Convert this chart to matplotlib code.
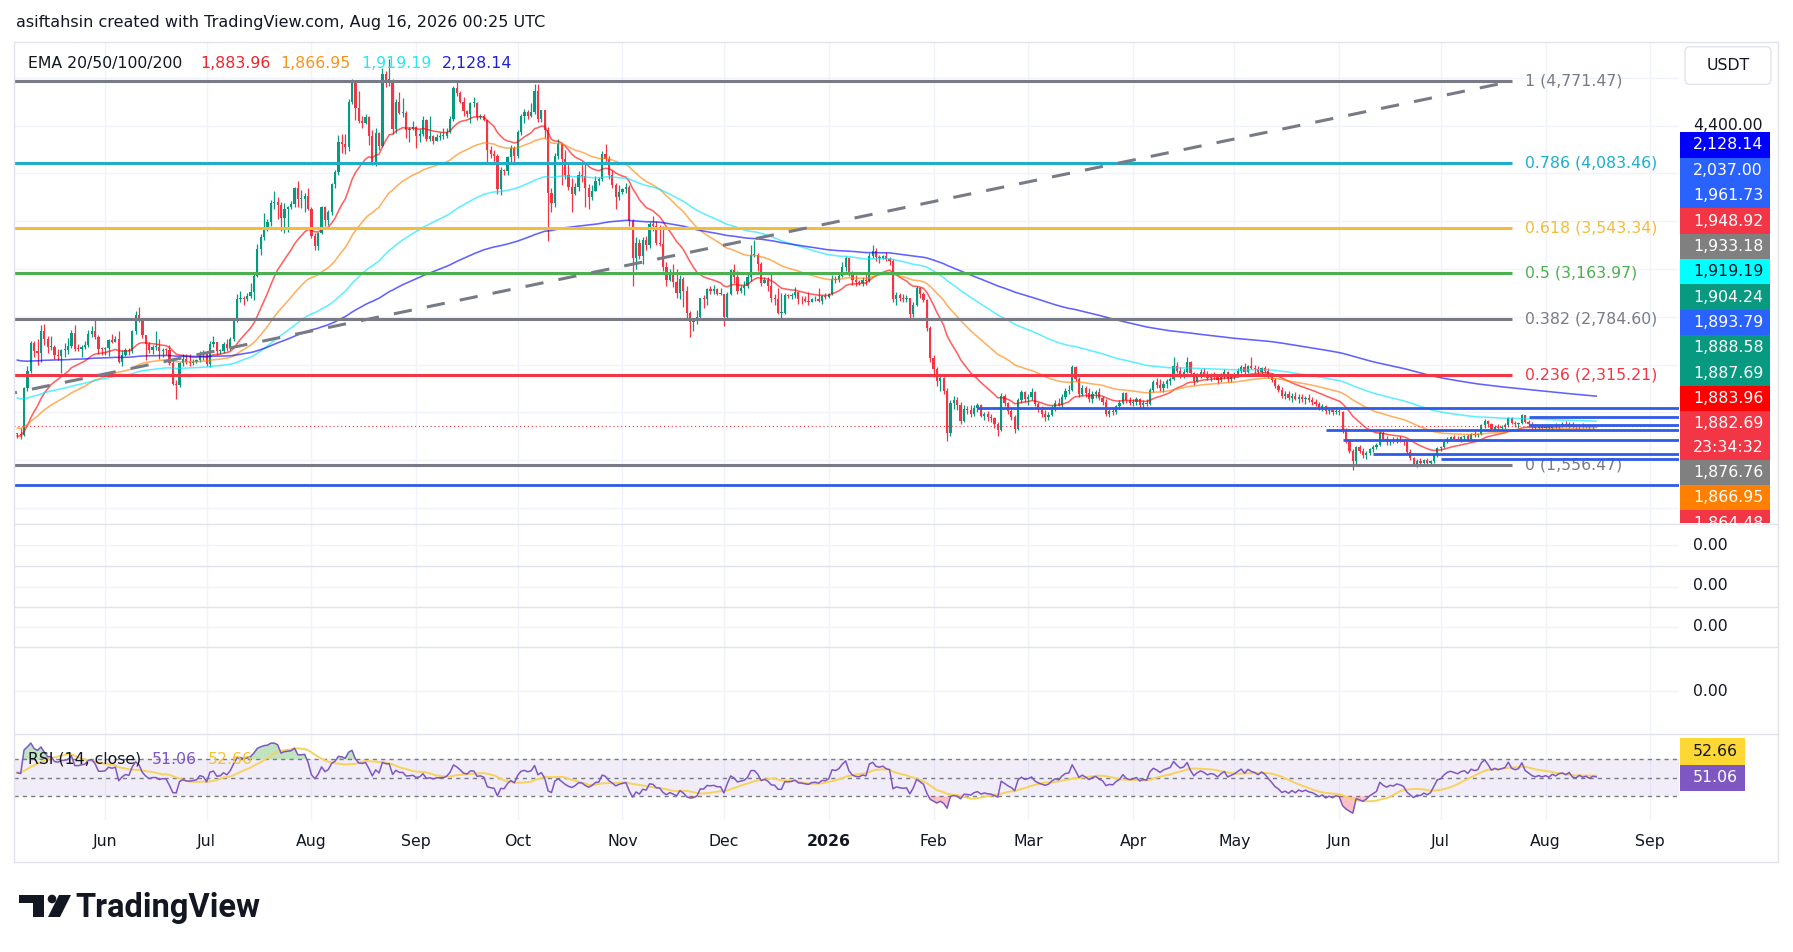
import numpy as np
import pandas as pd
import matplotlib
matplotlib.use("Agg")
import matplotlib.pyplot as plt
from matplotlib.patches import Rectangle, FancyBboxPatch, Polygon, Circle

W, H = 1793, 952
FS = 11.3
TXT = "#131722"
GRID = "#F0F3FA"
SEP = "#E0E3EB"
UP, DOWN = "#089981", "#F23645"

plt.rcParams["font.family"] = ["DejaVu Sans"]

# ──────────────────────────────────────────────
# DADOS — velas diárias ETH/USDT (máxima, mínima, fechamento)
# ──────────────────────────────────────────────
FIRST_DAY = "2025-05-06"
BASE_DAY = pd.Timestamp("2025-06-01")
PREV_CLOSE = 1816.0

may25 = [(1830,1785,1815),(1865,1780,1810),(2215,1805,2206),(2390,2180,2345),(2595,2330,2582),(2600,2460,2515),(2610,2400,2495),
         (2730,2420,2680),(2740,2560,2610),(2640,2500,2545),(2640,2520,2550),(2560,2450,2480),(2530,2440,2470),(2530,2330,2520),
         (2580,2460,2525),(2620,2490,2552),(2690,2540,2663),(2730,2510,2530),(2570,2510,2528),(2560,2460,2550),(2600,2530,2565),
         (2690,2550,2660),(2720,2630,2680),(2790,2610,2632),(2650,2490,2530),(2545,2480,2528)]
jun25 = [(2545,2480,2538),(2610,2475,2605),(2660,2580,2592),(2640,2590,2610),(2680,2410,2420),(2525,2385,2482),(2535,2470,2525),
         (2540,2480,2510),(2690,2500,2680),(2850,2660,2815),(2880,2760,2770),(2780,2620,2645),(2650,2440,2575),(2590,2500,2525),
         (2560,2490,2545),(2680,2520,2545),(2610,2450,2510),(2540,2460,2525),(2540,2480,2520),(2560,2400,2410),(2440,2230,2240),
         (2270,2110,2230),(2420,2210,2410),(2485,2385,2445),(2490,2405,2420),(2490,2390,2415),(2450,2400,2425),(2450,2410,2435),
         (2515,2420,2500),(2520,2440,2485)]
jul25 = [(2490,2390,2405),(2600,2380,2570),(2640,2550,2590),(2590,2480,2510),(2530,2490,2515),(2590,2500,2570),(2610,2510,2540),
         (2630,2520,2615),(2790,2600,2770),(2990,2760,2950),(3020,2920,2960),(2970,2900,2945),(3000,2930,2970),(3080,2960,3010),
         (3170,2940,3140),(3410,3130,3370),(3490,3320,3470),(3670,3440,3550),(3620,3520,3590),(3780,3560,3755),(3850,3700,3760),
         (3800,3620,3740),(3760,3520,3630),(3750,3500,3700),(3730,3510,3720),(3770,3700,3745),(3890,3720,3880),(3940,3720,3790),
         (3860,3710,3790),(3840,3680,3810),(3880,3690,3700)]
aug25 = [(3720,3460,3480),(3500,3360,3390),(3510,3360,3500),(3730,3490,3720),(3730,3560,3610),(3690,3570,3680),(3920,3650,3910),
         (4030,3880,4010),(4320,3990,4260),(4330,4170,4250),(4330,4160,4220),(4620,4190,4600),(4790,4580,4760),(4780,4450,4550),
         (4690,4420,4440),(4480,4380,4425),(4500,4410,4475),(4480,4240,4310),(4360,4070,4080),(4380,4060,4340),(4350,4200,4230),
         (4880,4220,4830),(4860,4720,4780),(4956,4730,4780),(4790,4330,4370),(4620,4340,4600),(4680,4500,4510),(4630,4470,4510),
         (4520,4300,4360),(4390,4260,4370),(4440,4360,4390)]
sep25 = [(4400,4210,4310),(4370,4260,4330),(4480,4310,4450),(4460,4270,4290),(4480,4270,4310),(4320,4250,4270),(4330,4270,4305),
         (4350,4280,4310),(4380,4290,4310),(4380,4300,4350),(4480,4340,4460),(4730,4440,4715),(4770,4650,4670),(4690,4590,4600),
         (4640,4480,4520),(4530,4470,4500),(4600,4420,4590),(4640,4560,4590),(4600,4450,4470),(4500,4460,4480),(4500,4440,4450),
         (4450,4080,4200),(4230,4130,4165),(4200,4090,4150),(4160,3830,3870),(4050,3820,4030),(4040,3990,4020),(4150,3990,4140),
         (4240,4100,4215),(4230,4100,4145)]
oct25 = [(4360,4130,4350),(4500,4320,4485),(4540,4420,4515),(4530,4460,4480),(4590,4470,4515),(4750,4500,4690),(4750,4430,4460),
         (4530,4430,4530),(4530,4300,4365),(4390,3435,3840),(3880,3680,3750),(4170,3720,4150),(4290,4120,4245),(4240,3900,4125),
         (4200,3950,3990),(4090,3860,3890),(3960,3680,3830),(3920,3820,3890),(4020,3850,3985),(4090,3930,3980),(4100,3720,3875),
         (3910,3700,3805),(3900,3780,3855),(3980,3850,3935),(3970,3900,3950),(4190,3940,4160),(4250,4100,4120),(4150,3950,3985),
         (4030,3880,3905),(3920,3700,3805),(3900,3780,3845)]
nov25 = [(3880,3830,3870),(3920,3840,3890),(3900,3560,3600),(3620,3060,3290),(3470,3200,3420),(3450,3280,3310),(3470,3240,3440),
         (3480,3360,3400),(3590,3380,3575),(3640,3520,3560),(3600,3400,3420),(3570,3390,3410),(3560,3180,3220),(3260,3060,3110),
         (3200,3100,3160),(3240,3050,3090),(3200,2960,3000),(3150,2950,3120),(3130,2880,3020),(3060,2790,2830),(2850,2630,2760),
         (2790,2680,2770),(2860,2740,2800),(2960,2780,2955),(2980,2870,2950),(3040,2900,3030),(3060,2990,3020),(3070,2990,3030),
         (3040,2980,2990),(3040,2980,2990)]
dec25 = [(2990,2720,2800),(3010,2780,2990),(3200,2980,3190),(3240,3080,3130),(3180,2990,3020),(3070,3000,3040),(3100,2980,3060),
         (3170,3040,3130),(3400,3100,3320),(3440,3300,3320),(3330,3180,3240),(3260,3060,3080),(3130,3080,3110),(3130,3020,3060),
         (3160,2920,2960),(2990,2900,2950),(3040,2820,2830),(3000,2780,2830),(3000,2820,2980),(2990,2960,2975),(3000,2950,2985),
         (3050,2960,3010),(3020,2910,2950),(2970,2910,2945),(2970,2920,2930),(3010,2900,2920),(2960,2920,2945),(2970,2930,2950),
         (3040,2920,2935),(2980,2910,2970),(3000,2950,2965)]
jan26 = [(3000,2960,2990),(3150,2980,3120),(3140,3080,3110),(3160,3090,3140),(3260,3130,3220),(3310,3180,3290),(3300,3140,3170),
         (3180,3070,3110),(3150,3060,3090),(3110,3070,3085),(3130,3060,3110),(3160,3070,3100),(3330,3090,3310),(3400,3290,3350),
         (3380,3270,3300),(3320,3250,3290),(3320,3280,3310),(3340,3270,3280),(3300,3230,3270),(3280,2920,2950),(3010,2900,2980),
         (3000,2930,2960),(2990,2920,2950),(2980,2920,2955),(2960,2790,2820),(2920,2800,2900),(3060,2890,3040),(3050,2960,2990),
         (3010,2920,2940),(2950,2680,2705),(2720,2420,2455)]
feb26 = [(2480,2300,2360),(2380,2220,2260),(2320,2180,2290),(2300,2150,2180),(2200,1760,1830),(2100,1800,2080),(2140,2030,2100),
         (2130,2020,2060),(2090,1900,1930),(2060,1920,2030),(2050,1990,2020),(2060,1960,1990),(2060,1970,2040),(2080,2000,2060),
         (2070,1960,1970),(2000,1940,1990),(2010,1930,1960),(1990,1920,1950),(1960,1870,1900),(1920,1800,1850),(2160,1840,2140),
         (2150,2050,2080),(2090,1990,2010),(2040,1940,1960),(1980,1830,1860),(2120,1850,2100),(2190,2080,2170),(2180,2090,2110)]
mar26 = [(2150,2060,2130),(2200,2100,2170),(2180,2050,2070),(2090,2000,2020),(2050,1960,1990),(2020,1930,1960),(2000,1940,1980),
         (2060,1970,2040),(2100,2010,2080),(2120,2050,2060),(2150,2040,2130),(2200,2110,2180),(2230,2150,2190),(2400,2180,2380),
         (2390,2260,2280),(2300,2130,2150),(2230,2140,2200),(2220,2130,2160),(2200,2090,2110),(2180,2080,2150),(2190,2120,2170),
         (2200,2100,2120),(2140,2060,2090),(2110,1970,1990),(2040,1960,2010),(2040,1980,2000),(2060,1990,2050),(2100,2030,2080),
         (2170,2070,2160),(2170,2080,2100),(2130,2060,2080)]
apr26 = [(2110,2050,2090),(2130,2060,2110),(2120,2040,2060),(2100,2030,2080),(2110,2050,2070),(2200,2060,2190),(2270,2170,2250),
         (2290,2200,2230),(2280,2180,2200),(2260,2170,2240),(2280,2200,2260),(2300,2230,2280),(2460,2270,2390),(2420,2330,2350),
         (2380,2290,2320),(2360,2290,2340),(2460,2330,2420),(2430,2310,2330),(2340,2230,2260),(2330,2250,2310),(2360,2290,2340),
         (2370,2300,2320),(2350,2270,2290),(2330,2260,2310),(2340,2280,2300),(2320,2240,2270),(2330,2250,2310),(2360,2280,2340),
         (2350,2250,2280),(2320,2250,2300)]
may26 = [(2340,2280,2320),(2370,2300,2350),(2400,2330,2380),(2410,2320,2340),(2400,2330,2390),(2460,2360,2370),(2400,2330,2360),
         (2390,2310,2340),(2380,2320,2370),(2390,2330,2350),(2370,2290,2310),(2330,2250,2270),(2290,2200,2220),(2240,2170,2190),
         (2210,2120,2140),(2180,2110,2150),(2180,2100,2120),(2160,2090,2140),(2170,2100,2110),(2150,2080,2130),(2150,2090,2110),
         (2140,2070,2120),(2150,2090,2100),(2130,2060,2090),(2110,2050,2070),(2090,2020,2040),(2070,2010,2050),(2060,1990,2010),
         (2040,1990,2020),(2030,1980,2000),(2030,1990,2010)]
jun26 = [(2030,1980,2000),(2010,1830,1850),(1870,1740,1760),(1780,1660,1680),(1690,1517,1590),(1720,1570,1710),(1730,1660,1680),
         (1700,1620,1640),(1680,1610,1660),(1700,1640,1690),(1730,1670,1710),(1740,1690,1730),(1840,1720,1825),(1840,1760,1780),
         (1800,1730,1750),(1780,1730,1770),(1790,1740,1760),(1790,1740,1780),(1800,1750,1770),(1780,1730,1750),(1760,1650,1670),
         (1690,1600,1620),(1630,1550,1570),(1610,1545,1590),(1620,1560,1580),(1610,1550,1600),(1620,1560,1575),(1600,1550,1590),
         (1650,1580,1640),(1710,1630,1700)]
jul26 = [(1720,1680,1710),(1760,1700,1750),(1790,1740,1780),(1800,1760,1790),(1810,1770,1780),(1800,1760,1770),(1800,1750,1790),
         (1810,1770,1800),(1820,1770,1780),(1830,1780,1820),(1840,1790,1810),(1830,1790,1820),(1900,1810,1890),(1945,1870,1930),
         (1940,1880,1900),(1910,1840,1860),(1890,1840,1880),(1900,1850,1870),(1890,1850,1880),(1910,1860,1890),(1960,1880,1950),
         (1960,1900,1910),(1930,1880,1900),(1920,1870,1910),(1990,1900,1975),(1980,1910,1920),(1940,1880,1900),(1920,1860,1880),
         (1900,1850,1870),(1890,1850,1880),(1900,1860,1870)]
aug26 = [(1890,1850,1880),(1900,1860,1870),(1890,1850,1890),(1910,1870,1880),(1900,1860,1895),(1920,1880,1900),(1930,1880,1890),
         (1920,1870,1905),(1920,1870,1880),(1900,1860,1875),(1900,1860,1890),(1910,1870,1880),(1900,1865,1885),(1900,1860,1875),
         (1895,1860,1885),(1890,1875,1882.69)]

months = [may25, jun25, jul25, aug25, sep25, oct25, nov25, dec25,
          jan26, feb26, mar26, apr26, may26, jun26, jul26, aug26]

# médias móveis exponenciais: períodos, valor inicial (antes da 1ª vela), cor
ema_periods = [20, 50, 100, 200]
ema_seed = [1800, 1870, 2126, 2444]
ema_colors = ["#FF0000", "#FF8000", "#00E5FF", "#0000FF"]
ema_legend = ["1,883.96", "1,866.95", "1,919.19", "2,128.14"]

# RSI 14 — estado inicial da média de ganhos/perdas
RSI_SEED_GAIN, RSI_SEED_LOSS, RSI_MA_SEED = 15.0, 12.0, 56.0
rsi_legend = ["51.06", "52.66"]

# Fibonacci
fib_low, fib_high = 1556.47, 4771.47
fib_levels = [1, 0.786, 0.618, 0.5, 0.382, 0.236, 0]
fib_colors = ["#787B86", "#1FADC9", "#F2BD3A", "#4CAF50", "#787B86", "#F23645", "#787B86"]
fib_end = "2026-07-22"
trend_start = "2025-01-22"

# linhas horizontais azuis (preço, início)
hline_prices = [2037.00, 1961.73, 1893.79, 1852.0, 1768.0, 1649.0, 1607.0, 1389.0]
hline_starts = ["2026-02-14", "2026-07-27", "2026-07-27", "2026-05-28", "2026-06-02", "2026-06-11", "2026-07-01", None]
last_price = 1882.69

# etiquetas empilhadas na escala de preço
stack_text = ["2,128.14", "2,037.00", "1,961.73", "1,948.92", "1,933.18", "1,919.19", "1,904.24", "1,893.79",
              "1,888.58", "1,887.69", "1,883.96", "1,882.69\n23:34:32", "1,876.76", "1,866.95", "1,864.48"]
stack_bg = ["#0000FF", "#2962FF", "#2962FF", "#F23645", "#808080", "#00FFFF", "#089981", "#2962FF",
            "#089981", "#089981", "#FF0000", "#F23645", "#808080", "#FF8000", "#F23645"]
stack_fg = ["white"] * 5 + [TXT] + ["white"] * 9

month_starts = pd.date_range("2025-06-01", "2026-09-01", freq="MS")

# ──────────────────────────────────────────────
# PREPARO
# ──────────────────────────────────────────────
arr = np.array([row for m in months for row in m], dtype=float)
high, low, close = arr[:, 0], arr[:, 1], arr[:, 2]
dates = pd.date_range(FIRST_DAY, periods=len(close), freq="D")
x = np.asarray((dates - BASE_DAY).days, dtype=float)
opn = np.r_[PREV_CLOSE, close[:-1]]
high = np.maximum(high, np.maximum(opn, close))
low = np.minimum(low, np.minimum(opn, close))


def dnum(s):
    return float((pd.Timestamp(s) - BASE_DAY).days)


def ema(values, n, seed):
    a = 2.0 / (n + 1)
    out, e = [], seed
    for v in values:
        e = a * v + (1 - a) * e
        out.append(e)
    return np.array(out)


diff = np.diff(np.r_[PREV_CLOSE, close])
gains, losses = np.clip(diff, 0, None), np.clip(-diff, 0, None)
ag, al = RSI_SEED_GAIN, RSI_SEED_LOSS
rsi = []
for g, l in zip(gains, losses):
    ag = (ag * 13 + g) / 14
    al = (al * 13 + l) / 14
    rsi.append(100 - 100 / (1 + ag / al))
rsi = np.array(rsi)
rsi_ma = pd.Series(np.r_[[RSI_MA_SEED] * 13, rsi]).rolling(14).mean().values[13:]

# ──────────────────────────────────────────────
# FIGURA
# ──────────────────────────────────────────────
fig = plt.figure(figsize=(W / 100, H / 100), dpi=100)
fig.patch.set_facecolor("white")

PX_PER_DAY = 3.381
X0_PX, X1_PX = 14, 1679
XLIM = ((X0_PX - 105.2) / PX_PER_DAY, (X1_PX - 105.2) / PX_PER_DAY)
month_x = np.asarray((month_starts - BASE_DAY).days, dtype=float)


def px_axes(x0, y0, x1, y1):
    a = fig.add_axes([x0 / W, 1 - y1 / H, (x1 - x0) / W, (y1 - y0) / H])
    a.set_xlim(*XLIM)
    a.axis("off")
    return a


# painel principal
ax = px_axes(X0_PX, 42, X1_PX, 524)
ax.set_ylim(1065.2, 5100.5)
ax.vlines(month_x, 1065.2, 5100.5, color=GRID, lw=1, zorder=0)
ax.hlines(np.arange(1200, 5100, 400), *XLIM, color=GRID, lw=1, zorder=0)

up = close >= opn
cols = np.where(up, UP, DOWN)
ax.vlines(x, low, high, colors=cols, lw=0.9, zorder=2)
body = np.maximum(np.abs(close - opn), 8.0)
ax.bar(x, body, bottom=np.minimum(opn, close), width=0.66, color=cols, lw=0, zorder=2)

for n, seed, c in zip(ema_periods, ema_seed, ema_colors):
    ax.plot(x, ema(close, n, seed), color=c, lw=1.15, alpha=0.62, zorder=3)

fx_end = dnum(fib_end)
for lvl, c in zip(fib_levels, fib_colors):
    p = fib_low + lvl * (fib_high - fib_low)
    ax.hlines(p, XLIM[0], fx_end, color=c, lw=2.2, zorder=4)
    ax.annotate(f"{lvl:g} ({p:,.2f})", xy=(fx_end, p), xytext=(9.4, 0), textcoords="offset points",
                va="center", ha="left", color=c, fontsize=FS, zorder=4, annotation_clip=False)
ax.plot([dnum(trend_start), fx_end], [fib_low, fib_high], color="#787B86", lw=2.2,
        ls=(0, (6, 5)), zorder=4)

ax.axhline(last_price, color=DOWN, lw=0.8, ls=(0, (1, 2.5)), zorder=4)
for p, s in zip(hline_prices, hline_starts):
    ax.hlines(p, dnum(s) if s else XLIM[0], XLIM[1], color="#2E5BE8", lw=2.0, zorder=5)

# painéis vazios
for y0, y1 in [(524, 566), (566, 607), (607, 647), (647, 734)]:
    a = px_axes(X0_PX, y0, X1_PX, y1)
    a.set_ylim(-1, 1)
    a.vlines(month_x, -1, 1, color=GRID, lw=1)
    a.axhline(0, color=GRID, lw=1)

# RSI
ar = px_axes(X0_PX, 734, X1_PX, 820)
ar.set_ylim(4.4, 97.4)
ar.vlines(month_x, 4.4, 97.4, color=GRID, lw=1, zorder=0)
ar.axhspan(30, 70, color="#7E57C2", alpha=0.1, lw=0, zorder=0)
for lv in (70, 50, 30):
    ar.axhline(lv, color="#787B86", lw=1, ls=(0, (3, 3)), zorder=1)
ar.fill_between(x, 70, rsi, where=rsi > 70, interpolate=True, color="#4CAF50", alpha=0.35, lw=0, zorder=1)
ar.fill_between(x, 30, rsi, where=rsi < 30, interpolate=True, color="#F23645", alpha=0.3, lw=0, zorder=1)
ar.plot(x, rsi_ma, color="#F7D25C", lw=1.4, zorder=2)
ar.plot(x, rsi, color="#7E57C2", lw=1.1, zorder=3)

# eixo do tempo
at = px_axes(X0_PX, 820, X1_PX, 862)
at.set_ylim(0, 1)
for mx, ms in zip(month_x, month_starts):
    lab, wt = (str(ms.year), "bold") if ms.month == 1 else (ms.strftime("%b"), "normal")
    at.text(mx, 0.48, lab, ha="center", va="center", fontsize=FS, color=TXT, fontweight=wt)

# ──────────────────────────────────────────────
# SOBREPOSIÇÃO EM PIXELS (cabeçalho, escala, logotipo)
# ──────────────────────────────────────────────
ov = fig.add_axes([0, 0, 1, 1])
ov.set_xlim(0, W)
ov.set_ylim(H, 0)
ov.axis("off")

ov.add_patch(Rectangle((13.5, 41.5), 1764, 820.5, fill=False, ec=SEP, lw=1))
ov.hlines([524, 566, 607, 647, 734], 14, 1778, color=SEP, lw=1)

ov.text(15.5, 23, "asiftahsin created with TradingView.com, Aug 16, 2026 00:25 UTC",
        fontsize=11.55, color=TXT, va="center", ha="left")

ov.text(27.6, 63.3, "EMA 20/50/100/200", fontsize=FS, color=TXT, va="center", ha="left")
for xp, s, c in zip([199.8, 280.5, 361, 442], ema_legend, ["#E8262E", "#F79420", "#2EE6F0", "#2020D8"]):
    ov.text(xp, 63.3, s, fontsize=FS, color=c, va="center", ha="left")

ov.text(27.6, 759, "RSI (14, close)", fontsize=FS, color=TXT, va="center", ha="left", zorder=5)
ov.text(152, 759, rsi_legend[0], fontsize=FS, color="#7E57C2", va="center", ha="left", zorder=5)
ov.text(208, 759, rsi_legend[1], fontsize=FS, color="#F2C230", va="center", ha="left", zorder=5)

# escala de preço
ov.add_patch(FancyBboxPatch((1685, 46.7), 86, 37.6, boxstyle="round,pad=0,rounding_size=5",
                            fc="white", ec=SEP, lw=1))
ov.text(1728, 65.5, "USDT", fontsize=FS, color=TXT, ha="center", va="center")
ov.text(1693, 125.7, "4,400.00", fontsize=FS, color=TXT, ha="left", va="center")

clip = Rectangle((1679, 42), 99, 481.3, transform=ov.transData)
ROW, ROW2 = 25.35, 48.5
yy = 132.3
for s, bg, fg in zip(stack_text, stack_bg, stack_fg):
    parts = s.split("\n")
    h = ROW if len(parts) == 1 else ROW2
    box = Rectangle((1680, yy), 89.5, h, color=bg, lw=0)
    ov.add_patch(box)
    box.set_clip_path(clip)
    for k, part in enumerate(parts):
        t = ov.text(1693, yy + (k + 0.5) * h / len(parts), part, fontsize=FS, color=fg,
                    ha="left", va="center")
        t.set_clip_path(clip)
    yy += h

for yp in (545, 586, 626.5, 691):
    ov.text(1693, yp, "0.00", fontsize=FS, color=TXT, ha="left", va="center")

ov.add_patch(Rectangle((1680, 738.3), 65, 26.7, color="#FDD835", lw=0))
ov.text(1693, 751.6, rsi_legend[1], fontsize=FS, color=TXT, ha="left", va="center")
ov.add_patch(Rectangle((1680, 765), 65, 25.7, color="#7E57C2", lw=0))
ov.text(1693, 777.8, rsi_legend[0], fontsize=FS, color="white", ha="left", va="center")

# logotipo
ov.add_patch(Rectangle((19, 895), 25, 8, color=TXT, lw=0))
ov.add_patch(Rectangle((33, 895), 11, 22, color=TXT, lw=0))
ov.add_patch(Circle((52, 899), 4.3, color=TXT, lw=0))
ov.add_patch(Polygon([(59, 895), (71, 895), (60, 917), (48, 917)], closed=True, color=TXT, lw=0))
ov.text(75, 917, "TradingView", fontsize=23.5, fontweight="bold", family="Roboto",
        color=TXT, ha="left", va="baseline")

fig.savefig("out.png", dpi=100, facecolor="white")
